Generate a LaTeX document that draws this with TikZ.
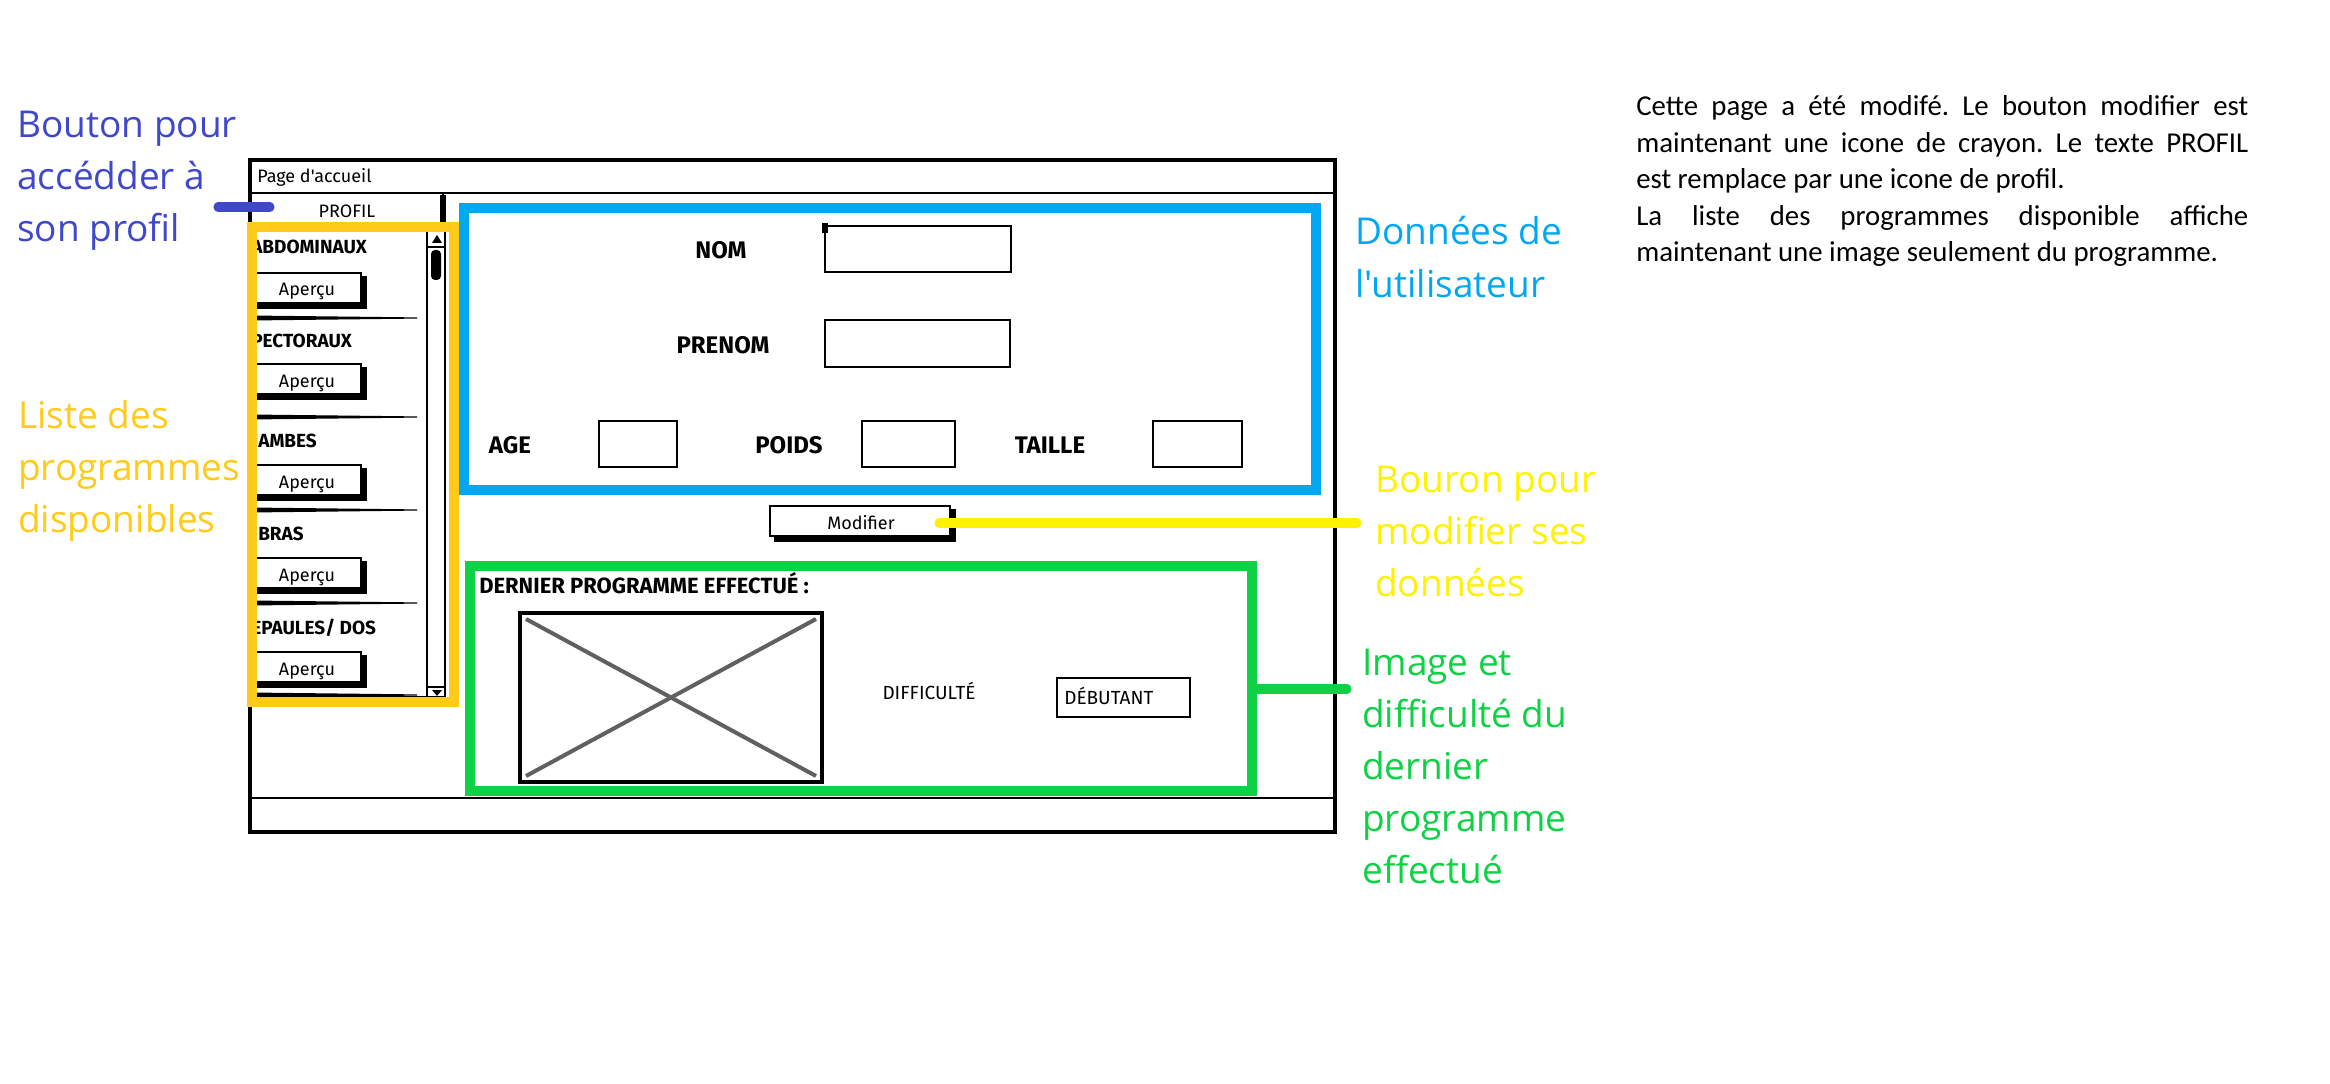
\documentclass[tikz,border=0pt]{standalone}
\usepackage{fontspec}
\newfontfamily\wf{Fira Sans}
\newfontfamily\annf{Open Sans}
\newfontfamily\notef{Carlito}
\definecolor{cindigo}{HTML}{3F48CC}
\definecolor{cblue}{HTML}{00A8F3}
\definecolor{cgold}{HTML}{FFCA18}
\definecolor{cyellow}{HTML}{FFF200}
\definecolor{cgreen}{HTML}{0ED145}
\definecolor{cgrey}{HTML}{606060}
\frenchspacing
\tikzset{
  wire/.style={draw=black, line width=2.2pt},
  thinwire/.style={draw=black, line width=1.6pt},
  shadowline/.style={draw=black, line width=3.8pt},
  wreg/.style={inner sep=0pt, font=\wf\fontsize{13.5pt}{15pt}\selectfont},
  wbold/.style={inner sep=0pt, font=\wf\bfseries\fontsize{14.25pt}{16pt}\selectfont},
  wfield/.style={inner sep=0pt, font=\wf\bfseries\fontsize{18pt}{20pt}\selectfont},
  ann/.style={inner sep=0pt, anchor=base west, font=\annf\fontsize{27.75pt}{39pt}\selectfont},
  note/.style={inner sep=0pt, anchor=base west, font=\notef\fontsize{21.6pt}{27pt}\selectfont\frenchspacing},
  hl/.style={line width=7.5pt},
  conn/.style={line width=6.8pt, line cap=round}
}
\begin{document}
\begin{tikzpicture}[x=0.75pt,y=-0.75pt]
\fill[white] (0,0) rectangle (2330,1084);
\useasboundingbox (0,0) rectangle (2330,1084);

% ---------------- page frame ----------------
\draw[wire, line width=2.6pt] (250,160) rectangle (1335,832);
\draw[wire] (250,193) -- (1335,193);
\draw[wire] (250,798) -- (1335,798);
\node[wreg, anchor=base west] (title) at (257,183) {Page d'accueil};

% PROFIL box
\draw[wire] (250,193) rectangle (443,226);
\draw[shadowline] (443,195) -- (443,228);
\node[wreg, anchor=base] (profil) at (347,218) {PROFIL};

% list container + scrollbar
\draw[wire] (250,226) rectangle (445,697);
\draw[thinwire] (427,232) -- (427,697);
\draw[thinwire] (427,247) -- (445,247);
\fill (432,243) -- (442,243) -- (437,235) -- cycle;
\fill[rounded corners=3pt] (431,250) rectangle (441,280);
\draw[thinwire] (427,687) -- (445,687);
\fill (432,690) -- (442,690) -- (437,696) -- cycle;

% list entries
\node[wbold, anchor=base west] (l1) at (251,253) {ABDOMINAUX};
\node[wbold, anchor=base west] (l2) at (251,347) {PECTORAUX};
\node[wbold, anchor=base west] (l3) at (252,447) {JAMBES};
\node[wbold, anchor=base west] (l4) at (258,540) {BRAS};
\node[wbold, anchor=base west] (l5) at (251,634) {EPAULES/ DOS};
\foreach \t [count=\i] in {273,364,465,558,652}{
  \draw[thinwire, line width=1.8pt] (253,\t) rectangle (361,\t+30);
  \draw[shadowline, line join=miter] (255,\t+33) -- (364,\t+33) -- (364,\t+3);
  \node[wreg, anchor=base] (ap\i) at (307,\t+23) {Aperçu};
}
\foreach \s in {318,417,510,603,695}{
  \fill (250,\s-2.5) -- (417,\s-0.6) -- (417,\s+0.6) -- (250,\s+2.5) -- cycle;
}

% user data fields
\node[wfield, anchor=base] (nom) at (721,258) {NOM};
\draw[wire] (825,226) rectangle (1011,272);
\fill (822,223) rectangle (828,233);
\node[wfield, anchor=base] (prenom) at (723,353) {PRENOM};
\draw[wire] (825,320) rectangle (1010,367);
\node[wfield, anchor=base] (age) at (510,453) {AGE};
\draw[wire] (599,421) rectangle (677,467);
\node[wfield, anchor=base] (poids) at (789,453) {POIDS};
\draw[wire] (862,421) rectangle (955,467);
\node[wfield, anchor=base] (taille) at (1050,453) {TAILLE};
\draw[wire] (1153,421) rectangle (1242,467);

% Modifier button
\draw[wire, line width=1.9pt] (770,506) rectangle (950,536);
\draw[shadowline, line width=4.5pt, line join=miter] (774,539) -- (953,539) -- (953,509);
\node[wreg, anchor=base] (modifier) at (861,529) {Modifier};

% last programme
\node[inner sep=0pt, anchor=base west, font=\wf\bfseries\fontsize{16.5pt}{18pt}\selectfont] (dernier) at (479,593) {DERNIER PROGRAMME EFFECTUÉ :};
\draw[wire, line width=2.6pt] (520,613) rectangle (822,782);
\draw[cgrey, line width=3pt] (526,619) -- (816,776);
\draw[cgrey, line width=3pt] (526,776) -- (816,619);
\node[inner sep=0pt, anchor=base, font=\wf\fontsize{14.25pt}{16pt}\selectfont] (diff) at (929,699) {DIFFICULTÉ};
\draw[wire] (1057,678) rectangle (1190,717);
\node[inner sep=0pt, anchor=base west, font=\wf\fontsize{14.25pt}{16pt}\selectfont] (deb) at (1064,704) {DÉBUTANT};

% ---------------- highlight rectangles ----------------
\draw[cgold, hl] (252,227) rectangle (454,702);
\draw[cblue, hl] (464,208) rectangle (1316,490);
\draw[cgreen, hl] (470,566) rectangle (1252,791);

% ---------------- connectors ----------------
\coordinate (i1) at (218,207); \coordinate (i2) at (270,207);
\draw[cindigo, conn] (i1) -- (i2);
\coordinate (y1) at (939,523); \coordinate (y2) at (1357,523);
\draw[cyellow, conn] (y1) -- (y2);
\coordinate (g1) at (1252,689); \coordinate (g2) at (1347,689);
\draw[cgreen, conn] (g1) -- (g2);

% ---------------- annotations ----------------
\node[ann, text=cindigo] (a1) at (17,138) {Bouton pour};
\node[ann, text=cindigo] (a2) at (17,190) {accédder à};
\node[ann, text=cindigo] (a3) at (17,242) {son profil};

\node[ann, text=cgold] (b1) at (18,428) {Liste des};
\node[ann, text=cgold] (b2) at (18,480) {programmes};
\node[ann, text=cgold] (b3) at (18,532) {disponibles};

\node[ann, text=cblue] (c1) at (1355,245) {Données de};
\node[ann, text=cblue] (c2) at (1355,297) {l'utilisateur};

\node[ann, text=cyellow] (d1) at (1375,492) {Bouron pour};
\node[ann, text=cyellow] (d2) at (1375,544) {modifier ses};
\node[ann, text=cyellow] (d3) at (1375,596) {données};

\node[ann, text=cgreen] (e1) at (1362,675) {Image et};
\node[ann, text=cgreen] (e2) at (1362,727) {difficulté du};
\node[ann, text=cgreen] (e3) at (1362,779) {dernier};
\node[ann, text=cgreen] (e4) at (1362,831) {programme};
\node[ann, text=cgreen] (e5) at (1362,883) {effectué};

% ---------------- note ----------------
\node[note] (n1) at (1636,116) {\makebox[459pt][s]{Cette page a été modifé. Le bouton modifier est}};
\node[note] (n2) at (1636,152.5) {\makebox[459pt][s]{maintenant une icone de crayon. Le texte PROFIL}};
\node[note] (n3) at (1636,189) {est remplace par une icone de profil.};
\node[note] (n4) at (1636,225.5) {\makebox[459pt][s]{La liste des programmes disponible affiche}};
\node[note] (n5) at (1636,262) {maintenant une image seulement du programme.};
\end{tikzpicture}
\end{document}
